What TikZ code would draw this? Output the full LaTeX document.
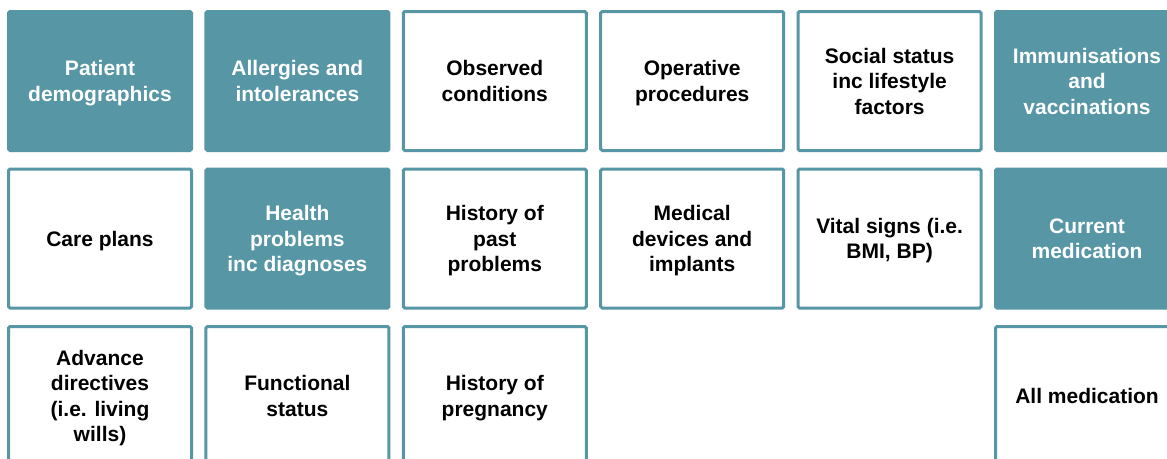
\documentclass[tikz,border=0pt]{standalone}
\usepackage{fontspec}
\setmainfont{Liberation Sans}
\definecolor{teal1}{RGB}{86,150,165}
\newcommand\fstrut{\rule[-7.65pt]{0pt}{30.5pt}}
\tikzset{
  cell/.style={rectangle, rounded corners=1.5pt, line width=3pt, draw=teal1,
    minimum width=183pt, minimum height=139pt, align=center,
    font=\fontsize{21}{25.5}\selectfont\bfseries, inner sep=0pt},
  tealcell/.style={cell, fill=teal1, text=white},
  whitecell/.style={cell, fill=white, text=black}
}
\begin{document}
\begin{tikzpicture}[x=1pt,y=-1pt]
\useasboundingbox (0,0) rectangle (1167,458);
\fill[white] (0,0) rectangle (1167,458);
\begin{scope}
\clip (0,0) rectangle (1167,458);
% row 1
\node[tealcell]  (pd)  at (100,81)    {\fstrut Patient\\\strut demographics};
\node[tealcell]  (ai)  at (297.4,81)  {\fstrut Allergies and\\\strut intolerances};
\node[whitecell] (oc)  at (494.8,81)  {\fstrut Observed\\\strut conditions};
\node[whitecell] (op)  at (692.2,81)  {\fstrut Operative\\\strut procedures};
\node[whitecell] (ss)  at (889.6,81)  {\fstrut Social status\\\strut inc lifestyle\\\strut factors};
\node[tealcell]  (iv)  at (1087,81)   {\fstrut Immunisations\\\strut and\\\strut vaccinations};
% row 2
\node[whitecell] (cp)  at (100,238.5)    {\fstrut Care plans};
\node[tealcell]  (hp)  at (297.4,238.5)  {\fstrut Health\\\strut problems\\\strut inc diagnoses};
\node[whitecell] (hpp) at (494.8,238.5)  {\fstrut History of\\\strut past\\\strut problems};
\node[whitecell] (md)  at (692.2,238.5)  {\fstrut Medical\\\strut devices and\\\strut implants};
\node[whitecell] (vs)  at (889.6,238.5)  {\fstrut Vital signs (i.e.\\\strut BMI, BP)};
\node[tealcell]  (cm)  at (1087,238.5)   {\fstrut Current\\\strut medication};
% row 3
\node[whitecell] (ad)  at (100,396)    {\fstrut Advance\\\strut directives\\\strut (i.e. living\\\strut wills)};
\node[whitecell] (fs)  at (297.4,396)  {\fstrut Functional\\\strut status};
\node[whitecell] (hpr) at (494.8,396)  {\fstrut History of\\\strut pregnancy};
\node[whitecell] (am)  at (1087,396)   {\fstrut All medication};
\end{scope}
\end{tikzpicture}
\end{document}
